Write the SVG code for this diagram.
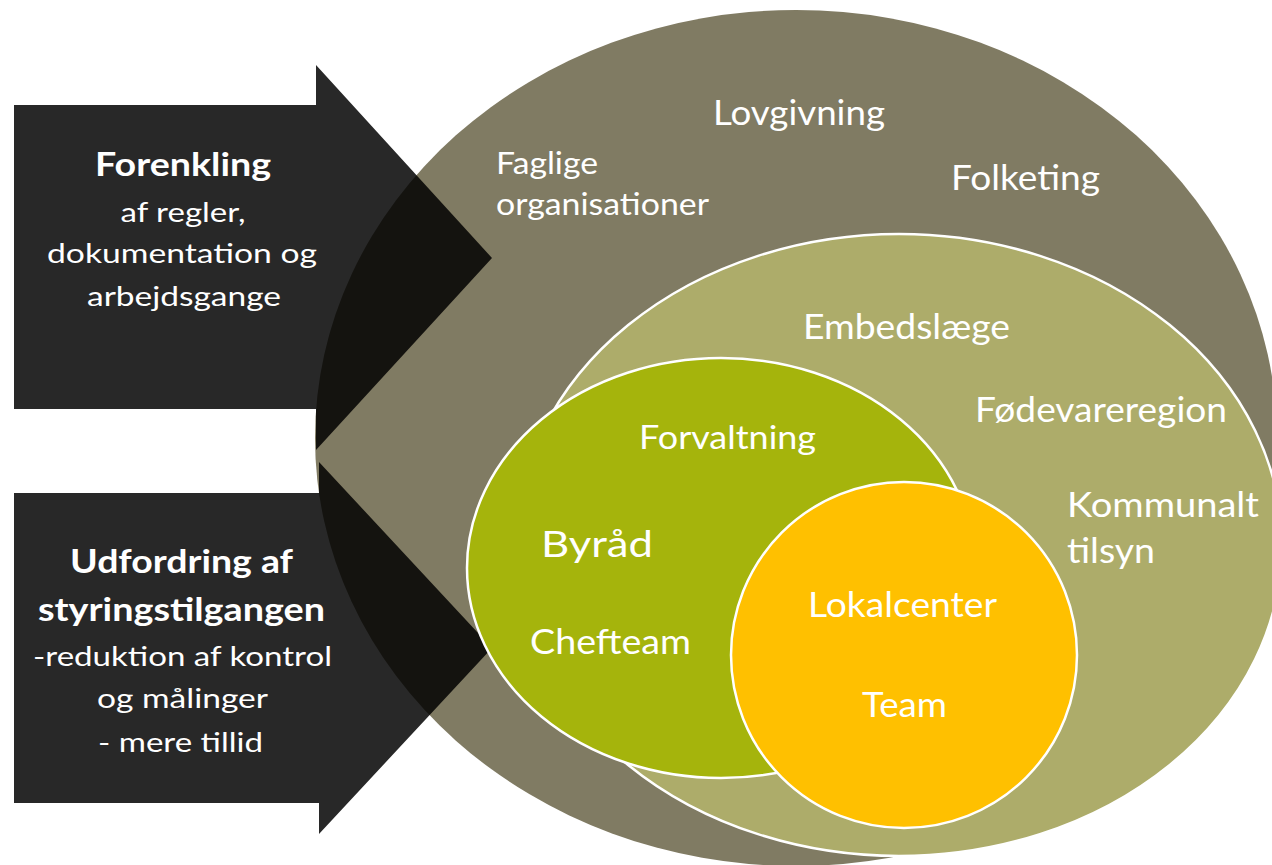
<svg xmlns="http://www.w3.org/2000/svg" width="1272" height="865" viewBox="0 0 1272 865">
<style>
.t{font-family:Lato,"Open Sans","Liberation Sans",sans-serif;fill:#ffffff;}
.b{font-weight:bold;}
.m{text-anchor:middle;}
.ring{stroke:#ffffff;stroke-width:2.5;}
.arrow{fill:#000000;fill-opacity:0.843;}
</style>
<rect x="0" y="0" width="1272" height="865" fill="#ffffff"/>
<g id="outer">
  <ellipse cx="796" cy="438" rx="481" ry="428" fill="#807b63"/>
</g>
<g id="arrow-top">
  <path class="arrow" d="M14,105 H316 V65 L492,258 L316,450 V409 H14 Z"/>
</g>
<g id="arrow-bottom">
  <path class="arrow" d="M14,493 H319 V462 L492,648 L319,834 V803 H14 Z"/>
</g>
<g id="middle">
  <ellipse class="ring" cx="899" cy="545" rx="383" ry="311" fill="#adac6a"/>
</g>
<g id="byraad">
  <ellipse class="ring" cx="721" cy="568" rx="254" ry="210" fill="#a5b40c"/>
</g>
<g id="lokalcenter">
  <circle class="ring" cx="904" cy="655" r="173" fill="#ffc000"/>
</g>
<g id="text-top-arrow">
  <text class="t b m" x="183" y="176" font-size="32" textLength="176" lengthAdjust="spacingAndGlyphs">Forenkling</text>
  <text class="t m" x="183" y="222" font-size="26" textLength="125" lengthAdjust="spacingAndGlyphs">af regler,</text>
  <text class="t m" x="182" y="263" font-size="26" textLength="270" lengthAdjust="spacingAndGlyphs">dokumentation og</text>
  <text class="t m" x="184" y="306" font-size="26" textLength="194" lengthAdjust="spacingAndGlyphs">arbejdsgange</text>
</g>
<g id="text-bottom-arrow">
  <text class="t b m" x="181.5" y="573" font-size="32" textLength="223" lengthAdjust="spacingAndGlyphs">Udfordring af</text>
  <text class="t b m" x="181.5" y="621" font-size="32" textLength="287" lengthAdjust="spacingAndGlyphs">styringstilgangen</text>
  <text class="t m" x="182.5" y="666" font-size="26" textLength="299" lengthAdjust="spacingAndGlyphs">-reduktion af kontrol</text>
  <text class="t m" x="182.5" y="708" font-size="26" textLength="171" lengthAdjust="spacingAndGlyphs">og målinger</text>
  <text class="t m" x="180.5" y="752" font-size="26" textLength="165" lengthAdjust="spacingAndGlyphs">- mere tillid</text>
</g>
<g id="labels-outer">
  <text class="t" x="713" y="125" font-size="35" textLength="172" lengthAdjust="spacingAndGlyphs">Lovgivning</text>
  <text class="t" x="496" y="174" font-size="31" textLength="102" lengthAdjust="spacingAndGlyphs">Faglige</text>
  <text class="t" x="496" y="215" font-size="31" textLength="213" lengthAdjust="spacingAndGlyphs">organisationer</text>
  <text class="t" x="951" y="190" font-size="35" textLength="149" lengthAdjust="spacingAndGlyphs">Folketing</text>
</g>
<g id="labels-middle">
  <text class="t" x="803" y="339" font-size="35" textLength="207" lengthAdjust="spacingAndGlyphs">Embedslæge</text>
  <text class="t" x="975" y="422" font-size="35" textLength="252" lengthAdjust="spacingAndGlyphs">Fødevareregion</text>
  <text class="t" x="1067" y="517" font-size="35" textLength="192" lengthAdjust="spacingAndGlyphs">Kommunalt</text>
  <text class="t" x="1067" y="563" font-size="35" textLength="88" lengthAdjust="spacingAndGlyphs">tilsyn</text>
</g>
<g id="labels-byraad">
  <text class="t" x="639" y="449" font-size="33" textLength="177" lengthAdjust="spacingAndGlyphs">Forvaltning</text>
  <text class="t" x="541" y="557" font-size="37" textLength="112" lengthAdjust="spacingAndGlyphs">Byråd</text>
  <text class="t" x="530" y="654" font-size="35" textLength="161" lengthAdjust="spacingAndGlyphs">Chefteam</text>
</g>
<g id="labels-lokalcenter">
  <text class="t" x="808" y="617" font-size="35" textLength="189" lengthAdjust="spacingAndGlyphs">Lokalcenter</text>
  <text class="t" x="862" y="717" font-size="35" textLength="85" lengthAdjust="spacingAndGlyphs">Team</text>
</g>
</svg>
